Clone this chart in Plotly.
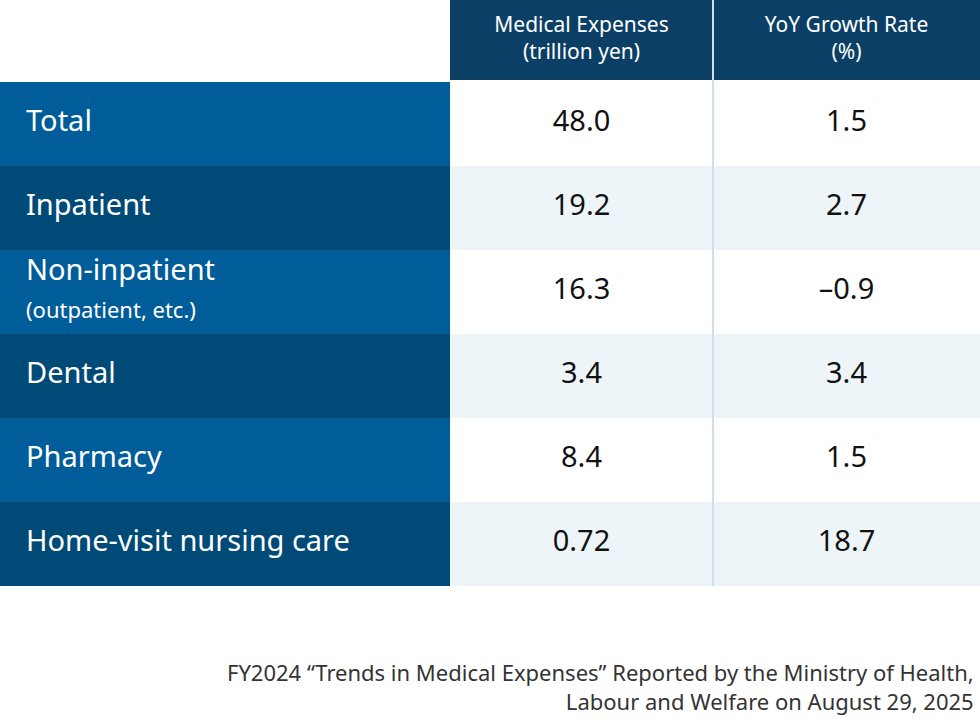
import plotly.graph_objects as go

categories = ["Total", "Inpatient", "Non-inpatient<br><span style='font-size:22px'>(outpatient, etc.)</span>",
              "Dental", "Pharmacy", "Home-visit nursing care"]
expenses = ["48.0", "19.2", "16.3", "3.4", "8.4", "0.72"]
growth = ["1.5", "2.7", "–0.9", "3.4", "1.5", "18.7"]
headers = ["Medical Expenses<br>(trillion yen)", "YoY Growth Rate<br>(%)"]

col_edges = [0, 450, 713, 980]
header_h, top, row_h = 80, 82, 84

fig = go.Figure()
shapes = []
# header cells
for j in range(2):
    shapes.append(dict(type="rect", xref="x", yref="y", x0=col_edges[j + 1], x1=col_edges[j + 2],
                       y0=0, y1=header_h, fillcolor="#0b3f66", line=dict(width=0), layer="below"))
for i in range(len(categories)):
    y0, y1 = top + row_h * i, top + row_h * (i + 1)
    lab = "#005d99" if i % 2 == 0 else "#004a78"
    dat = "#ffffff" if i % 2 == 0 else "#eef5f9"
    shapes.append(dict(type="rect", xref="x", yref="y", x0=col_edges[0], x1=col_edges[1], y0=y0, y1=y1,
                       fillcolor=lab, line=dict(width=0), layer="below"))
    shapes.append(dict(type="rect", xref="x", yref="y", x0=col_edges[1], x1=col_edges[3], y0=y0, y1=y1,
                       fillcolor=dat, line=dict(width=0), layer="below"))
shapes.append(dict(type="line", xref="x", yref="y", x0=col_edges[2], x1=col_edges[2], y0=0,
                   y1=top + row_h * len(categories), line=dict(color="#cfe0ec", width=2)))

ymid = [top + row_h * (i + 0.5) for i in range(len(categories))]
fig.add_trace(go.Scatter(x=[26] * len(categories), y=ymid, text=categories, mode="text",
                         textposition="middle right", hoverinfo="skip",
                         textfont=dict(family="Noto Sans", size=29, color="white")))
fig.add_trace(go.Scatter(x=[(col_edges[1] + col_edges[2]) / 2] * len(expenses), y=ymid, text=expenses,
                         mode="text", textposition="middle center", hoverinfo="skip",
                         textfont=dict(family="Noto Sans", size=29, color="#111111")))
fig.add_trace(go.Scatter(x=[(col_edges[2] + col_edges[3]) / 2] * len(growth), y=ymid, text=growth,
                         mode="text", textposition="middle center", hoverinfo="skip",
                         textfont=dict(family="Noto Sans", size=29, color="#111111")))
fig.add_trace(go.Scatter(x=[(col_edges[1] + col_edges[2]) / 2, (col_edges[2] + col_edges[3]) / 2],
                         y=[header_h / 2] * 2, text=headers, mode="text", textposition="middle center",
                         hoverinfo="skip", textfont=dict(family="Noto Sans", size=21, color="white")))

fig.update_layout(
    width=980, height=723, margin=dict(l=0, r=0, t=0, b=0),
    paper_bgcolor="white", plot_bgcolor="white", showlegend=False, shapes=shapes,
    xaxis=dict(range=[0, 980], visible=False, fixedrange=True),
    yaxis=dict(range=[723, 0], visible=False, fixedrange=True),
    annotations=[dict(
        text="FY2024 “Trends in Medical Expenses” Reported by the Ministry of Health,<br>Labour and Welfare on August 29, 2025",
        x=976, y=718, xref="x", yref="y", xanchor="right", yanchor="bottom",
        align="right", showarrow=False,
        font=dict(family="Noto Sans", size=22, color="#333333"))]
)
fig.write_html("out.html", config={"displayModeBar": False},
               post_script="document.body.style.margin='0';document.body.style.overflow='hidden';")
